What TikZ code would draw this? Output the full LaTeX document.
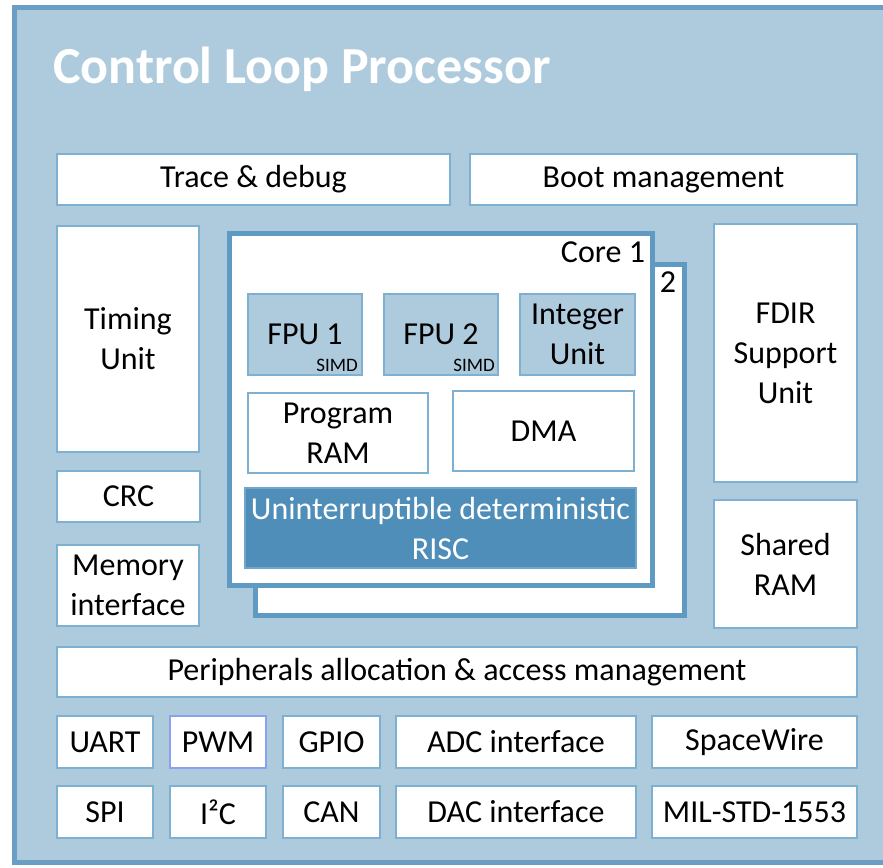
\documentclass[tikz,border=0pt]{standalone}
\usepackage{fontspec}
\setmainfont{Carlito}
\definecolor{bgblue}{HTML}{AECBDE}
\definecolor{framec}{HTML}{6A9EC4}
\definecolor{boxline}{HTML}{7EB0D2}
\definecolor{corec}{HTML}{5F9AC3}
\definecolor{riscc}{HTML}{4F8EB9}
\definecolor{riscline}{HTML}{6FA6CC}
\definecolor{pwmline}{HTML}{8CA0F0}
\newcommand\pbox[7]{\node[#1, anchor=north west, minimum width={(#5)-(#3)}, minimum height={(#6)-(#4)}] (#2) at (#3,#4) {#7};}
\tikzset{
  txt/.style={font=\fontsize{32}{40}\selectfont, align=center, text=black, inner sep=0pt, outer sep=0pt},
  wbox/.style={txt, draw=boxline, line width=1.8pt, fill=white},
  fbox/.style={txt, draw=boxline, line width=2.2pt, fill=bgblue},
  rbox/.style={txt, draw=riscline, line width=2pt, fill=riscc, text=white},
  corebox/.style={draw=corec, line width=5pt, fill=white, inner sep=0pt, outer sep=0pt},
  small/.style={font=\fontsize{19}{22}\selectfont, inner sep=0pt, text=black},
}
\begin{document}
\begin{tikzpicture}[x=1pt,y=-1pt]
\useasboundingbox (0,0) rectangle (883,867);
\clip (0,0) rectangle (883,867);
% outer frame
\pbox{draw=framec, line width=5pt, fill=bgblue, inner sep=0pt, outer sep=0pt}{frame}{14.5}{7.5}{905}{862.5}{}
\node[anchor=base west, inner sep=0pt, text=white, font=\fontsize{52}{60}\selectfont\bfseries] (title) at (53,83) {Control Loop Processor};
% top row
\pbox{wbox}{trace}{57}{154}{450}{205}{Trace \& debug}
\pbox{wbox}{boot}{470}{154}{857}{205}{Boot management}
% left column
\pbox{wbox}{timing}{57}{226}{199}{452}{Timing\\Unit}
\pbox{wbox}{crc}{57}{471}{200}{522}{CRC}
\pbox{wbox}{mem}{57}{545}{199}{626}{Memory\\interface}
% right column
\pbox{wbox}{fdir}{714}{224}{857}{482}{FDIR\\Support\\Unit}
\pbox{wbox}{shared}{714}{500}{857}{628}{Shared\\RAM}
% cores
\pbox{corebox}{core2}{255.5}{264.5}{684.5}{615.5}{}
\pbox{corebox}{core1}{229.5}{233.5}{652.5}{585.5}{}
\node[txt, anchor=base east] (c1lab) at (645,262) {Core 1};
\node[txt, anchor=base east] (c2lab) at (676,292) {2};
\pbox{fbox}{fpu1}{248}{294}{362}{375}{FPU 1}
\pbox{fbox}{fpu2}{384}{294}{498}{375}{FPU 2}
\pbox{fbox}{intu}{520}{294}{635}{375}{Integer\\Unit}
\node[small, anchor=base east] (simd1) at (358,371) {SIMD};
\node[small, anchor=base east] (simd2) at (495,371) {SIMD};
\pbox{wbox}{pram}{248}{393}{428}{473}{Program\\RAM}
\pbox{wbox}{dma}{453}{391}{634}{471}{DMA}
\pbox{rbox}{risc}{245}{488}{636}{568}{Uninterruptible deterministic\\RISC}
% peripherals
\pbox{wbox}{periph}{57}{647}{857}{697}{Peripherals allocation \& access management}
\pbox{wbox}{uart}{57}{716}{153}{768}{UART}
\pbox{wbox, draw=pwmline}{pwm}{170}{716}{266}{768}{PWM}
\pbox{wbox}{gpio}{283}{716}{380}{768}{GPIO}
\pbox{wbox}{adc}{396}{716}{636}{768}{ADC interface}
\pbox{wbox}{spw}{652}{716}{857}{768}{SpaceWire}
\pbox{wbox}{spi}{57}{786}{153}{838}{SPI}
\pbox{wbox}{i2c}{170}{786}{266}{838}{I²C}
\pbox{wbox}{can}{283}{786}{380}{838}{CAN}
\pbox{wbox}{dac}{396}{786}{636}{838}{DAC interface}
\pbox{wbox}{mil}{652}{786}{857}{838}{MIL-STD-1553}
\end{tikzpicture}
\end{document}
